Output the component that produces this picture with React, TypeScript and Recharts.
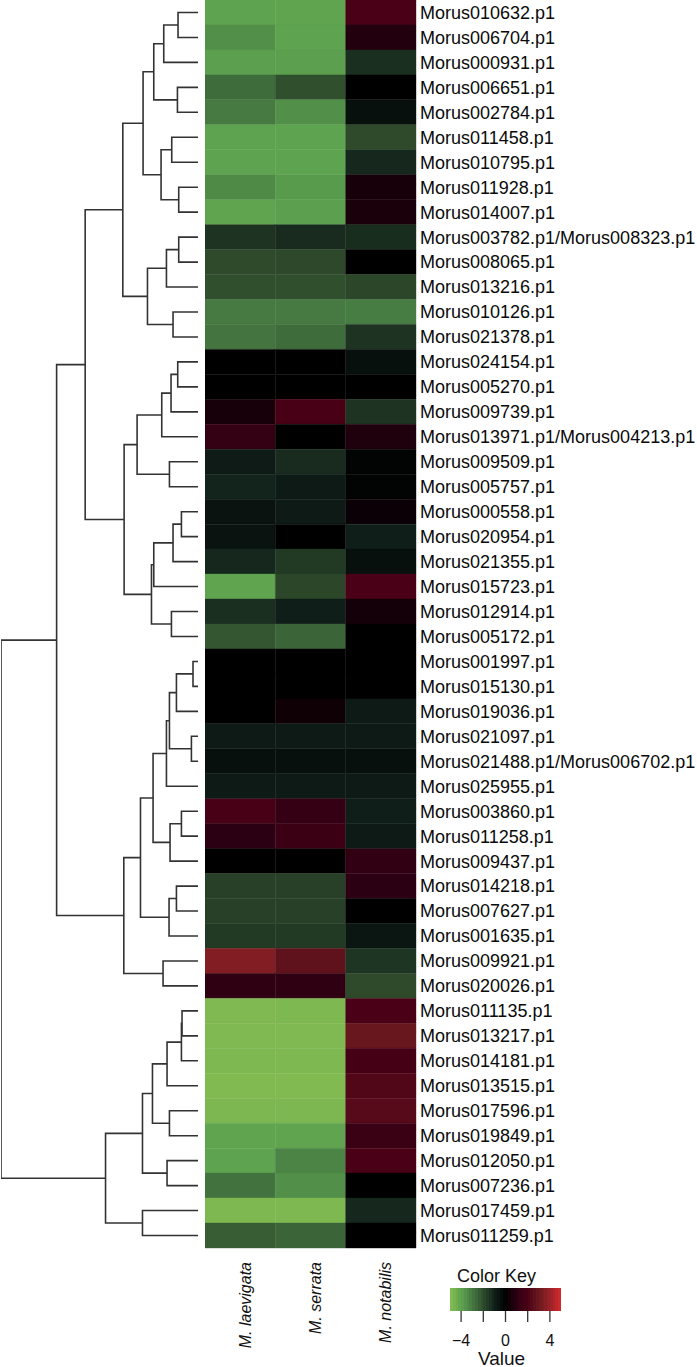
import React from 'react';
import { ComposedChart, Scatter, XAxis, YAxis, ReferenceArea } from 'recharts';

const FONT = '"Liberation Sans", Arial, sans-serif';

const genes = [
  'Morus010632.p1', 'Morus006704.p1', 'Morus000931.p1', 'Morus006651.p1', 'Morus002784.p1',
  'Morus011458.p1', 'Morus010795.p1', 'Morus011928.p1', 'Morus014007.p1', 'Morus003782.p1/Morus008323.p1',
  'Morus008065.p1', 'Morus013216.p1', 'Morus010126.p1', 'Morus021378.p1', 'Morus024154.p1',
  'Morus005270.p1', 'Morus009739.p1', 'Morus013971.p1/Morus004213.p1', 'Morus009509.p1', 'Morus005757.p1',
  'Morus000558.p1', 'Morus020954.p1', 'Morus021355.p1', 'Morus015723.p1', 'Morus012914.p1',
  'Morus005172.p1', 'Morus001997.p1', 'Morus015130.p1', 'Morus019036.p1', 'Morus021097.p1',
  'Morus021488.p1/Morus006702.p1', 'Morus025955.p1', 'Morus003860.p1', 'Morus011258.p1', 'Morus009437.p1',
  'Morus014218.p1', 'Morus007627.p1', 'Morus001635.p1', 'Morus009921.p1', 'Morus020026.p1',
  'Morus011135.p1', 'Morus013217.p1', 'Morus014181.p1', 'Morus013515.p1', 'Morus017596.p1',
  'Morus019849.p1', 'Morus012050.p1', 'Morus007236.p1', 'Morus017459.p1', 'Morus011259.p1',
];

const species = ['M. laevigata', 'M. serrata', 'M. notabilis'];

const laevigata = [
  -4.0, -3.5, -3.9, -2.7, -3.0, -4.0, -4.0, -3.4, -4.05, -1.45,
  -2.0, -2.1, -3.0, -2.9, 0, 0, 0.55, 1.25, -0.85, -1.1,
  -0.6, -0.6, -1.2, -4.05, -1.35, -2.25, 0, 0, 0, -0.8,
  -0.5, -0.8, 1.9, 1.0, 0, -1.75, -1.75, -1.6, 3.5, 1.1,
  -4.85, -4.85, -4.8, -4.9, -4.75, -4.05, -4.0, -2.85, -4.8, -2.4,
];

const serrata = [
  -4.05, -4.0, -3.9, -2.1, -3.5, -4.0, -4.0, -3.8, -3.9, -1.25,
  -1.95, -2.1, -3.0, -2.7, 0, 0, 1.9, 0, -1.25, -0.8,
  -0.8, 0, -1.6, -1.9, -0.95, -2.55, 0, 0, 0.35, -0.8,
  -0.5, -0.8, 1.3, 1.5, 0, -1.75, -1.75, -1.6, 2.7, 1.1,
  -4.8, -4.85, -4.8, -4.9, -4.75, -4.05, -3.25, -3.5, -4.8, -2.55,
];

const notabilis = [
  2.0, 0.8, -1.35, 0, -0.5, -2.0, -1.2, 0.55, 0.6, -1.3,
  0, -1.9, -3.05, -1.45, -0.5, 0, -1.45, 0.7, -0.1, -0.1,
  0.25, -0.95, -0.5, 2.0, 0.45, 0, 0, 0, -0.8, -0.8,
  -0.5, -0.8, -0.95, -0.8, 1.15, 1.0, 0, -0.7, -1.5, -2.0,
  2.0, 2.9, 1.85, 2.25, 2.4, 1.45, 2.0, 0, -1.2, 0,
];

// dendrogram merges: [node name, left child, right child, height]; numbers are leaf rows
const merges: [string, number | string, number | string, number][] = [
  ['A', 0, 1, 2.0], ['B', 'A', 2, 3.43], ['C', 3, 4, 2.06], ['D', 'B', 'C', 4.43],
  ['E', 5, 6, 2.63], ['F', 7, 8, 1.93], ['G', 'E', 'F', 3.7], ['H', 'D', 'G', 5.5],
  ['K1', 9, 10, 1.93], ['K', 'K1', 11, 3.16], ['L', 12, 13, 2.5], ['J', 'K', 'L', 5.06],
  ['I', 'H', 'J', 7.53],
  ['T', 14, 15, 2.03], ['S', 'T', 16, 2.7], ['Q', 'S', 17, 3.63], ['R', 18, 19, 2.86],
  ['O', 'Q', 'R', 6.1],
  ['U', 20, 21, 1.66], ['V', 'U', 22, 2.5], ['W', 'V', 23, 4.43], ['X', 24, 25, 2.66],
  ['P', 'W', 'X', 4.66], ['N', 'O', 'P', 7.4], ['M', 'I', 'N', 11.3],
  ['n1', 26, 27, 0.5], ['n2', 'n1', 28, 2.16], ['n3', 29, 30, 0.66], ['II', 'n2', 'n3', 2.86],
  ['FF', 'II', 31, 3.16], ['HH', 32, 33, 1.66], ['GG', 'HH', 34, 2.8], ['CC', 'FF', 'GG', 4.5],
  ['EE', 35, 36, 2.16], ['DD', 'EE', 37, 2.9], ['AA', 'CC', 'DD', 5.76], ['BB', 38, 39, 3.5],
  ['Y', 'AA', 'BB', 7.43], ['Z', 'M', 'Y', 14.16],
  ['a', 40, 41, 1.6], ['b', 'a', 42, 1.66], ['c', 'b', 43, 3.1], ['d', 44, 45, 2.86],
  ['e', 'c', 'd', 4.56], ['f', 46, 47, 3.1], ['g', 'e', 'f', 5.56], ['h', 48, 49, 5.56],
  ['i', 'g', 'h', 9.26], ['root', 'Z', 'i', 19.73],
];

const colorStopValues = [-5, -4, -3, -2, -1, 0, 1, 2, 3, 4, 5];
const colorStopColors = [
  '#86bd52', '#5ea34f', '#467a42', '#2e4a2b', '#10201a', '#000000',
  '#2c0012', '#4a0016', '#6a1a1e', '#9a2228', '#d42a2a',
];

const keyBins = [
  -5, -4.75, -4.5, -4.25, -4, -3.75, -3.5, -3.25, -3, -2.75, -2.5, -2.25, -2, -1.75, -1.5, -1.25, -1, -0.75, -0.5, -0.25,
  0, 0.25, 0.5, 0.75, 1, 1.25, 1.5, 1.75, 2, 2.25, 2.5, 2.75, 3, 3.25, 3.5, 3.75, 4, 4.25, 4.5, 4.75,
];
const keyBinWidth = 0.25;
const keyTicks = [-4, -2, 0, 2, 4];
const keyTickLabels = ['\u22124', '', '0', '', '4'];

function hexToRgb(h: string) {
  return [parseInt(h.slice(1, 3), 16), parseInt(h.slice(3, 5), 16), parseInt(h.slice(5, 7), 16)];
}
function colorFor(v: number) {
  const vv = Math.max(-5, Math.min(5, v));
  let i = 0;
  while (i < colorStopValues.length - 2 && vv > colorStopValues[i + 1]) i++;
  const t = (vv - colorStopValues[i]) / (colorStopValues[i + 1] - colorStopValues[i]);
  const a = hexToRgb(colorStopColors[i]);
  const b = hexToRgb(colorStopColors[i + 1]);
  const c = a.map((x, k) => Math.round(x + (b[k] - x) * t));
  return `rgb(${c[0]},${c[1]},${c[2]})`;
}

const columns = [laevigata, serrata, notabilis];
const cells = genes.flatMap((g, r) =>
  columns.map((col, c) => ({ x: c + 0.5, y: r + 0.5, row: r, col: c, value: col[r] }))
);
const rowTicks = genes.map((_, i) => i + 0.5);
const colTicks = species.map((_, i) => i + 0.5);
const keyCells = keyBins.map((b) => ({ x: b + keyBinWidth / 2, y: 0.5 }));

// dendrogram geometry from merges
const nodeY: Record<string, number> = {};
const nodeH: Record<string, number> = {};
const nk = (c: number | string) => (typeof c === 'number' ? `leaf${c}` : c);
genes.forEach((_, i) => {
  nodeY[`leaf${i}`] = i + 0.5;
  nodeH[`leaf${i}`] = 0;
});
const segments = merges.map(([name, l, r, h]) => {
  const yl = nodeY[nk(l)];
  const yr = nodeY[nk(r)];
  nodeY[name] = (yl + yr) / 2;
  nodeH[name] = h;
  return [
    { x: nodeH[nk(l)], y: yl },
    { x: h, y: yl },
    { x: h, y: yr },
    { x: nodeH[nk(r)], y: yr },
  ];
});
const rootHeight = merges[merges.length - 1][3];

const ColumnTick = (props: any) => {
  const { x, y, payload } = props;
  const label = species[Math.floor(payload.value)];
  const ax = x + 10.5;
  const ay = y + 14;
  return (
    <text
      x={ax}
      y={ay}
      transform={`rotate(-90, ${ax}, ${ay})`}
      textAnchor="end"
      fontStyle="italic"
      fontSize={16}
      fill="#111"
      fontFamily={FONT}
    >
      {label}
    </text>
  );
};

export default function App() {
  return (
    <div
      style={{
        position: 'absolute',
        left: 0,
        top: 0,
        width: 697,
        height: 1367,
        overflow: 'hidden',
        background: '#fff',
        fontFamily: FONT,
      }}
    >
      {/* dendrogram */}
      <div style={{ position: 'absolute', left: 0, top: 0 }}>
        <ComposedChart width={199} height={1248} margin={{ top: 0, right: 1, bottom: 0, left: 1 }}>
          <XAxis type="number" dataKey="x" domain={[0, rootHeight]} reversed hide allowDataOverflow />
          <YAxis type="number" dataKey="y" domain={[0, 50]} reversed hide allowDataOverflow />
          {segments.map((seg, i) => (
            <Scatter
              key={i}
              data={seg}
              fill="#333"
              line={{ stroke: '#333', strokeWidth: 1.6 }}
              lineType="joint"
              shape={() => <g />}
              isAnimationActive={false}
            />
          ))}
        </ComposedChart>
      </div>

      {/* heatmap */}
      <div style={{ position: 'absolute', left: 205, top: 0 }}>
        <ComposedChart width={492} height={1367} data={cells} margin={{ top: 0, right: 0, bottom: 0, left: 0 }}>
          <XAxis
            type="number"
            dataKey="x"
            domain={[0, 3]}
            ticks={colTicks}
            interval={0}
            height={119}
            axisLine={false}
            tickLine={false}
            tickSize={0}
            tickMargin={0}
            tick={<ColumnTick />}
            allowDataOverflow
          />
          <YAxis
            type="number"
            dataKey="y"
            domain={[0, 50]}
            reversed
            orientation="right"
            width={281}
            ticks={rowTicks}
            interval={0}
            axisLine={false}
            tickLine={false}
            tickSize={0}
            tickMargin={4}
            tick={{ fontSize: 18, fill: '#0a0a0a', fontFamily: FONT }}
            tickFormatter={(v: number) => genes[Math.floor(v)]}
            allowDataOverflow
          />
          {cells.map((c) => (
            <ReferenceArea
              key={`${c.row}-${c.col}`}
              x1={c.col}
              x2={c.col + 1}
              y1={c.row}
              y2={c.row + 1}
              fill={colorFor(c.value)}
              fillOpacity={1}
              stroke={colorFor(c.value)}
              strokeWidth={0.4}
              ifOverflow="visible"
            />
          ))}
          <Scatter dataKey="y" shape={() => <g />} isAnimationActive={false} />
        </ComposedChart>
      </div>

      {/* color key */}
      <div style={{ position: 'absolute', left: 450, top: 1288 }}>
        <ComposedChart width={111} height={73} data={keyCells} margin={{ top: 0, right: 0, bottom: 0, left: 0 }}>
          <XAxis
            type="number"
            dataKey="x"
            domain={[-5, 5]}
            ticks={keyTicks}
            interval={0}
            height={50}
            axisLine={false}
            tickSize={11}
            tickMargin={13}
            tickLine={{ stroke: '#333', strokeWidth: 1.3 }}
            tick={{ fontSize: 16, fill: '#111', fontFamily: FONT }}
            tickFormatter={(v: number) => keyTickLabels[keyTicks.indexOf(v)] ?? ''}
            allowDataOverflow
          />
          <YAxis type="number" dataKey="y" domain={[0, 1]} hide allowDataOverflow />
          {keyBins.map((b) => (
            <ReferenceArea
              key={b}
              x1={b}
              x2={b + keyBinWidth}
              y1={0}
              y2={1}
              fill={colorFor(b + keyBinWidth / 2)}
              fillOpacity={1}
              stroke="none"
              shapeRendering="crispEdges"
              ifOverflow="visible"
            />
          ))}
          <Scatter dataKey="y" shape={() => <g />} isAnimationActive={false} />
        </ComposedChart>
      </div>

      <svg style={{ position: 'absolute', left: 0, top: 0, pointerEvents: 'none' }} width={697} height={1367}>
        <text x={457} y={1281.7} fontSize={18} fill="#111" fontFamily={FONT}>
          Color Key
        </text>
        <text x={478} y={1364.5} fontSize={19} fill="#111" fontFamily={FONT}>
          Value
        </text>
      </svg>
    </div>
  );
}
